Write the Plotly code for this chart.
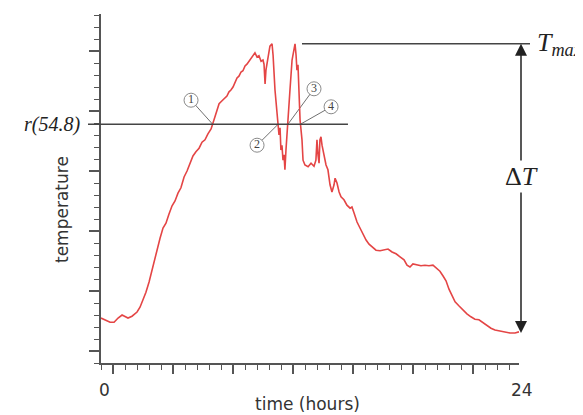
import plotly.graph_objects as go

# ---------------- data ----------------
hours = [0.00, 0.23, 0.52, 0.75, 0.98, 1.21, 1.38, 1.55, 1.78, 2.07, 2.24, 2.41, 2.58, 2.76,
         2.93, 3.10, 3.22, 3.39, 3.56, 3.73, 3.90, 4.08, 4.25, 4.42, 4.59, 4.77, 4.94, 5.11,
         5.28, 5.45, 5.63, 5.80, 5.97, 6.14, 6.32, 6.43, 6.55, 6.66, 6.78, 6.95, 7.12, 7.23,
         7.35, 7.46, 7.58, 7.69, 7.81, 7.92, 8.04, 8.15, 8.27, 8.38, 8.50, 8.61, 8.73, 8.84,
         8.96, 9.07, 9.19, 9.30, 9.36, 9.42, 9.47, 9.59, 9.70, 9.82, 9.88, 9.99, 10.11, 10.22,
         10.28, 10.33, 10.39, 10.45, 10.51, 10.56, 10.62, 10.74, 10.85, 10.97, 11.08, 11.14,
         11.20, 11.25, 11.31, 11.37, 11.43, 11.54, 11.60, 11.71, 11.89, 12.06, 12.23, 12.34,
         12.40, 12.46, 12.52, 12.57, 12.63, 12.69, 12.80, 12.92, 13.03, 13.15, 13.26, 13.38,
         13.44, 13.55, 13.67, 13.78, 13.95, 14.12, 14.30, 14.41, 14.53, 14.70, 14.87, 15.04,
         15.22, 15.39, 15.56, 15.79, 16.02, 16.25, 16.48, 16.71, 16.94, 17.17, 17.40, 17.57,
         17.74, 17.91, 18.14, 18.37, 18.60, 18.83, 19.06, 19.29, 19.46, 19.64, 19.81, 19.98,
         20.15, 20.33, 20.56, 20.78, 21.01, 21.24, 21.47, 21.70, 21.93, 22.16, 22.39, 22.62,
         22.91, 23.20, 23.48, 23.77, 24.00]
temps = [22.5, 22.2, 21.8, 21.8, 22.5, 23.0, 22.7, 22.5, 22.8, 23.5, 24.3, 25.5, 26.8, 28.5,
         30.5, 32.7, 34.2, 35.8, 37.5, 38.3, 39.8, 41.2, 42.0, 43.3, 44.2, 46.0, 47.0, 48.3,
         49.5, 50.2, 50.8, 51.8, 52.2, 53.2, 54.0, 55.0, 56.0, 57.2, 58.2, 58.7, 59.2, 59.5,
         60.2, 60.5, 61.0, 61.7, 62.5, 62.8, 63.5, 63.7, 64.5, 64.8, 65.3, 65.8, 66.3, 66.7,
         66.0, 66.2, 65.3, 65.5, 64.8, 61.5, 63.8, 66.3, 67.8, 68.2, 66.3, 60.5, 57.2, 53.0,
         54.2, 50.5, 51.3, 48.8, 49.7, 47.2, 50.5, 55.0, 60.5, 65.5, 67.7, 68.2, 66.3, 63.8,
         64.7, 59.7, 55.5, 52.2, 48.8, 48.0, 47.7, 48.3, 47.8, 48.8, 52.2, 49.7, 48.3, 52.2,
         52.7, 51.3, 49.7, 48.0, 47.2, 44.7, 43.5, 44.7, 45.8, 45.0, 43.5, 42.7, 42.2, 41.3,
         40.8, 41.0, 40.0, 38.5, 37.5, 36.5, 35.5, 34.8, 34.3, 33.8, 33.7, 33.8, 34.0, 33.5,
         33.2, 32.7, 32.2, 31.3, 31.0, 31.5, 31.3, 31.2, 31.3, 31.2, 31.3, 30.8, 30.3, 29.5,
         28.7, 27.3, 26.2, 25.2, 24.5, 23.8, 23.2, 22.7, 22.3, 22.2, 21.7, 21.2, 20.8, 20.5,
         20.3, 20.2, 20.0, 20.0, 20.2]

r_level = 54.8
x_tick_labels = ["0", "24"]
x_title = "time (hours)"
y_title = "temperature"

# circled callout labels (label position) -> which crossing of r they point at
label_names = ["1", "2", "3", "4"]
label_hours = [5.17, 8.96, 12.23, 13.21]
label_temps = [58.8, 51.3, 60.7, 57.7]

# ---------------- layout geometry (page pixels) ----------------
W, H = 583, 415
PAGE_OFF = 8                      # default body margin of the html page
L, R, T, B = 101, 519, 14, 363    # plot area in page pixels
X_RANGE = [0, 24]
Y_RANGE = [15, 15 + (B - T) / 6.0]


def pxx(p):  # page pixel -> paper x
    return (p - L) / (R - L)


def pxy(p):  # page pixel -> paper y
    return (B - p) / (B - T)


def hx(h):  # hours -> paper x
    return (h - X_RANGE[0]) / (X_RANGE[1] - X_RANGE[0])


tmax = max(temps)
tmin = min(temps)

# crossings of the r level (linear interpolation of the series)
crossings = []
for i in range(len(hours) - 1):
    a, b = temps[i] - r_level, temps[i + 1] - r_level
    if a * b < 0:
        crossings.append(hours[i] + (hours[i + 1] - hours[i]) * a / (a - b))

AX = "#555555"
TXT = "#333333"

fig = go.Figure()

# leader lines from circled numbers to crossings
lx, ly = [], []
for k in range(min(len(label_names), len(crossings))):
    lx += [label_hours[k], crossings[k], None]
    ly += [label_temps[k], r_level, None]
fig.add_trace(go.Scatter(x=lx, y=ly, mode="lines",
                         line=dict(color="#707070", width=1), hoverinfo="skip"))

# temperature curve
fig.add_trace(go.Scatter(x=hours, y=temps, mode="lines",
                         line=dict(color="#e44545", width=1.6)))

# circled labels
fig.add_trace(go.Scatter(x=label_hours, y=label_temps, mode="markers+text",
                         text=label_names, textposition="middle center",
                         marker=dict(size=14, color="white",
                                     line=dict(color="#8a8a8a", width=1)),
                         textfont=dict(family="Liberation Serif", size=12, color="#444"),
                         hoverinfo="skip"))

minor_step = 24 * 12 / (R - L)

fig.update_layout(
    width=W - PAGE_OFF, height=H - PAGE_OFF,
    margin=dict(l=L - PAGE_OFF, r=W - R, t=T - PAGE_OFF, b=H - B),
    paper_bgcolor="white", plot_bgcolor="white",
    showlegend=False,
    xaxis=dict(range=X_RANGE, showline=True, linecolor=AX, linewidth=2,
               ticks="outside", ticklen=9, tickwidth=1.5, tickcolor=AX,
               tick0=minor_step, dtick=5 * minor_step,
               showticklabels=False, showgrid=False, zeroline=False,
               minor=dict(ticks="outside", ticklen=5, tickwidth=1.2, tickcolor=AX,
                          tick0=0, dtick=minor_step, showgrid=False)),
    yaxis=dict(range=Y_RANGE, showline=True, linecolor=AX, linewidth=2,
               ticks="outside", ticklen=10, tickwidth=1.5, tickcolor=AX,
               tick0=17, dtick=10,
               showticklabels=False, showgrid=False, zeroline=False,
               minor=dict(ticks="outside", ticklen=5, tickwidth=1.2, tickcolor=AX,
                          tick0=15, dtick=2, showgrid=False)),
)

# r level line and Tmax line
fig.add_shape(type="line", xref="paper", yref="y",
              x0=pxx(88), x1=hx(14.18), y0=r_level, y1=r_level,
              line=dict(color="#444444", width=1.5))
fig.add_shape(type="line", xref="paper", yref="y",
              x0=hx(11.54), x1=pxx(530), y0=tmax, y1=tmax,
              line=dict(color="#444444", width=1.5))

mid = (tmax + tmin) / 2
for yy in (tmax, tmin):
    fig.add_annotation(x=pxx(521), xref="paper", y=yy, yref="y",
                       ax=0, axref="pixel", ay=mid, ayref="y",
                       text="", showarrow=True, arrowhead=2, arrowsize=1.6,
                       arrowwidth=1.5, arrowcolor="#222222")


def label(text, x, y, size, family="DejaVu Sans", xref="paper", yref="paper",
          xanchor="center", yanchor="middle", color=TXT, **kw):
    fig.add_annotation(x=x, y=y, xref=xref, yref=yref, text=text, showarrow=False,
                       xanchor=xanchor, yanchor=yanchor,
                       font=dict(family=family, size=size, color=color), **kw)


label("Δ<i>T</i>", pxx(521), pxy(176), 26, family="Liberation Serif",
      color="#222", bgcolor="white")
label("<i>T</i><sub><i>max</i></sub>", pxx(535), tmax, 26, family="Liberation Serif",
      yref="y", xanchor="left", color="#222")
label(f"<i>r({r_level})</i>", pxx(82), r_level, 20, family="Liberation Serif",
      yref="y", xanchor="right", color="#222")

# axis labels
label(x_tick_labels[0], X_RANGE[0], pxy(390), 17, xref="x", xshift=3)
label(x_tick_labels[1], X_RANGE[1], pxy(390), 17, xref="x", xshift=3)
label(x_title, pxx(307), pxy(404), 17)
label(y_title, pxx(62), pxy(210), 17, textangle=-90)

fig.write_html("out.html")
